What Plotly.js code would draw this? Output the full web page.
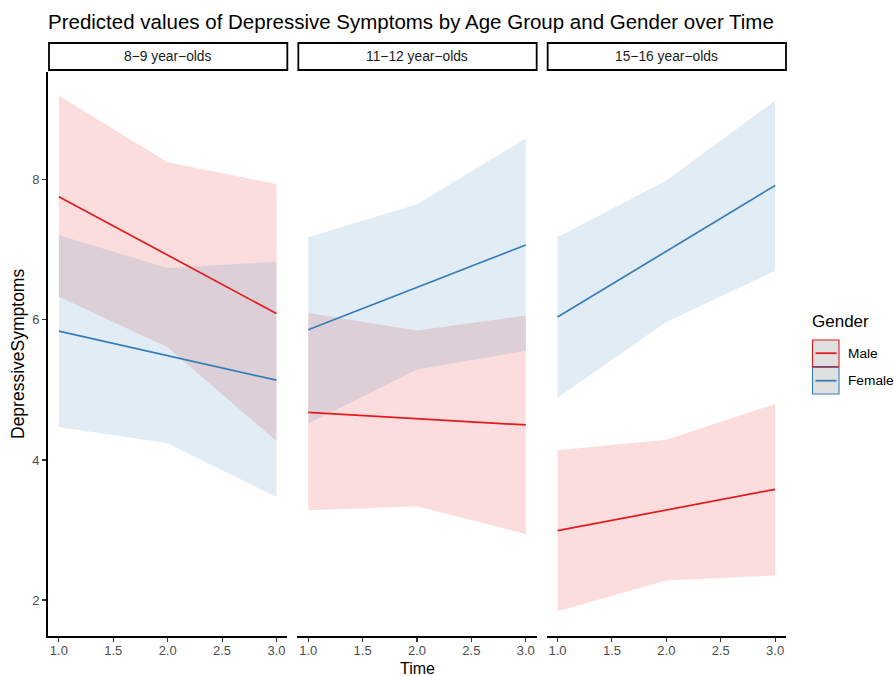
<!DOCTYPE html>
<html>
<head>
<meta charset="utf-8">
<script src="https://cdn.plot.ly/plotly-3.0.1.min.js"></script>
<style>html,body{margin:0;padding:0;background:#fff;}#chart{width:894px;height:676px;}</style>
</head>
<body>
<div id="chart"></div>
<script>
// ---- data ----
const time = [1, 2, 3];
const panels = ["8\u22129 year\u2212olds", "11\u221212 year\u2212olds", "15\u221216 year\u2212olds"];
const genders = ["Male", "Female"];

const male_fit   = [[7.76, 6.92, 6.09], [4.68, 4.59, 4.50], [2.99, 3.29, 3.58]];
const male_upper = [[9.20, 8.25, 7.94], [6.10, 5.85, 6.06], [4.14, 4.29, 4.80]];
const male_lower = [[6.33, 5.61, 4.27], [3.28, 3.34, 2.94], [1.84, 2.28, 2.35]];

const female_fit   = [[5.84, 5.49, 5.14], [5.86, 6.46, 7.07], [6.04, 6.98, 7.92]];
const female_upper = [[7.21, 6.74, 6.83], [7.18, 7.65, 8.59], [7.18, 7.99, 9.13]];
const female_lower = [[4.47, 4.24, 3.47], [4.52, 5.29, 5.56], [4.89, 5.97, 6.70]];

const yTicks = [2, 4, 6, 8];
const xTicks = [1.0, 1.5, 2.0, 2.5, 3.0];

// ---- styles ----
const RED = "#E41A1C", BLUE = "#377EB8";
const RED_FILL = "rgba(228,26,28,0.15)", BLUE_FILL = "rgba(55,126,184,0.15)";
const FONT = "Liberation Sans, Arial, Helvetica, sans-serif";
const TICK_SIZE = 13;

const rev = a => a.slice().reverse();
const traces = [];
const axNames = ["", "2", "3"];
for (let p = 0; p < 3; p++) {
  const xa = "x" + axNames[p], ya = "y";
  [[male_upper, male_lower, RED_FILL], [female_upper, female_lower, BLUE_FILL]].forEach(([u, l, c]) => {
    traces.push({
      x: time.concat(rev(time)), y: u[p].concat(rev(l[p])),
      type: "scatter", mode: "lines", fill: "toself", fillcolor: c,
      line: {width: 0, color: "rgba(0,0,0,0)"}, hoverinfo: "skip", showlegend: false,
      xaxis: xa, yaxis: ya
    });
  });
}
for (let p = 0; p < 3; p++) {
  const xa = "x" + axNames[p];
  traces.push({x: time, y: male_fit[p], type: "scatter", mode: "lines",
    line: {color: RED, width: 1.7}, showlegend: false, xaxis: xa, yaxis: "y", name: genders[0]});
  traces.push({x: time, y: female_fit[p], type: "scatter", mode: "lines",
    line: {color: BLUE, width: 1.7}, showlegend: false, xaxis: xa, yaxis: "y", name: genders[1]});
}

const W = 894, H = 676, L = 48, R = 108, T = 72, B = 40;
const pw = W - L - R, ph = H - T - B;
const gap = 10 / pw;
const wEach = (1 - 2 * gap) / 3;
const domains = [0, 1, 2].map(i => [i * (wEach + gap), i * (wEach + gap) + wEach]);

const xaxisBase = {
  range: [0.9, 3.1], tickvals: xTicks, ticktext: xTicks.map(v => v.toFixed(1)),
  showgrid: false, zeroline: false, showline: true, linecolor: "#000", linewidth: 1.8,
  ticks: "outside", ticklen: 4, tickwidth: 1.1, tickcolor: "#333", ticklabelstandoff: -2,
  tickfont: {family: FONT, size: TICK_SIZE, color: "#4d4d4d"}, anchor: "y", fixedrange: true
};

const layout = {
  width: W, height: H,
  margin: {l: L, r: R, t: T, b: B},
  paper_bgcolor: "#fff", plot_bgcolor: "#fff",
  showlegend: false,
  title: {text: "Predicted values of Depressive Symptoms by Age Group and Gender over Time",
    x: 0, xref: "paper", xanchor: "left", y: 1 - 22 / H, yref: "container", yanchor: "middle",
    font: {family: FONT, size: 20.5, color: "#000"}},
  xaxis: Object.assign({}, xaxisBase, {domain: domains[0]}),
  xaxis2: Object.assign({}, xaxisBase, {domain: domains[1]}),
  xaxis3: Object.assign({}, xaxisBase, {domain: domains[2]}),
  yaxis: {range: [1.486, 9.54], tickvals: yTicks, showgrid: false, zeroline: false,
    showline: true, linecolor: "#000", linewidth: 1.8, ticks: "outside", ticklen: 4,
    tickwidth: 1.1, tickcolor: "#333", tickfont: {family: FONT, size: TICK_SIZE, color: "#4d4d4d"},
    fixedrange: true},
  shapes: [], annotations: []
};

// strips
panels.forEach((name, i) => {
  layout.shapes.push({type: "rect", xref: "paper", yref: "paper",
    x0: domains[i][0] + 1 / pw, x1: domains[i][1], y0: 1 + 2 / ph, y1: 1 + 29 / ph,
    line: {color: "#000", width: 1.8}, fillcolor: "#fff"});
  layout.annotations.push({text: name, xref: "paper", yref: "paper",
    x: (domains[i][0] + domains[i][1]) / 2, y: 1 + 15.5 / ph, xanchor: "center", yanchor: "middle",
    showarrow: false, font: {family: FONT, size: 13.8, color: "#1a1a1a"}});
});

// axis titles
layout.annotations.push({text: "Time", xref: "paper", yref: "paper", x: 0.5, y: -(H - T - ph) / ph,
  xanchor: "center", yanchor: "bottom", yshift: -2, borderpad: 0, showarrow: false,
  font: {family: FONT, size: 16, color: "#000"}});
layout.annotations.push({text: "DepressiveSymptoms", xref: "paper", yref: "paper", x: -30 / pw, y: 0.5,
  xanchor: "center", yanchor: "middle", textangle: -90, showarrow: false,
  font: {family: FONT, size: 17.5, color: "#000"}});

// legend (drawn manually, ggplot style)
const px = x => (x - L) / pw, py = y => 1 - (y - T) / ph;
layout.annotations.push({text: "Gender", xref: "paper", yref: "paper", x: px(810), y: py(322),
  xanchor: "left", yanchor: "middle", showarrow: false, font: {family: FONT, size: 17, color: "#000"}});
[[RED, 340, genders[0]], [BLUE, 367.5, genders[1]]].forEach(([c, top, lab]) => {
  layout.shapes.push({type: "rect", xref: "paper", yref: "paper",
    x0: px(812.5), x1: px(839), y0: py(top + 26.5), y1: py(top), line: {color: c, width: 1.1},
    fillcolor: "#e0e0e0"});
  layout.shapes.push({type: "line", xref: "paper", yref: "paper",
    x0: px(815.5), x1: px(836.5), y0: py(top + 13.2), y1: py(top + 13.2), line: {color: c, width: 1.8}});
  layout.annotations.push({text: lab, xref: "paper", yref: "paper", x: px(846), y: py(top + 13.2),
    xanchor: "left", yanchor: "middle", showarrow: false, font: {family: FONT, size: 13.7, color: "#000"}});
});

Plotly.newPlot("chart", traces, layout, {displayModeBar: false, staticPlot: true});
</script>
</body>
</html>
